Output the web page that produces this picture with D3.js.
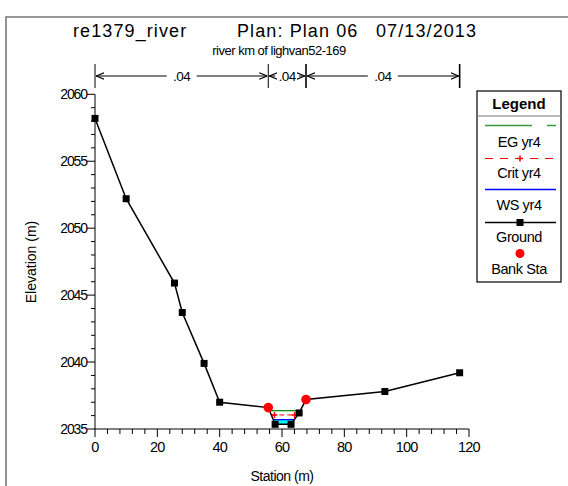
<!DOCTYPE html>
<html>
<head>
<meta charset="utf-8">
<script src="https://cdn.jsdelivr.net/npm/d3@7"></script>
<style>
  body { margin: 0; background: #fff; }
  svg { font-family: "Liberation Sans", Arial, sans-serif; }
</style>
</head>
<body>
<svg id="canvas" width="568" height="486"></svg>
<script>
// cross section data
let station   = [0, 10, 25.5, 28, 35, 40, 55.6, 57.8, 62.9, 65.5, 67.7, 93, 117];
let elevation = [2058.2, 2052.2, 2045.9, 2043.7, 2039.9, 2037.0, 2036.6, 2035.35, 2035.35, 2036.2, 2037.2, 2037.8, 2039.2];
let bankStation = [55.6, 67.7];
let bankElevation = [2036.6, 2037.2];
let wsElev = 2035.7;
let critElev = 2036.05;
let egElev = 2036.37;
let nBreaks = [0, 55.6, 67.7, 117];
let nValues = [".04", ".04", ".04"];
let xTicks = [0, 20, 40, 60, 80, 100, 120];
let yTicks = [2035, 2040, 2045, 2050, 2055, 2060];
let legendItems = ["EG yr4", "Crit yr4", "WS yr4", "Ground", "Bank Sta"];

let svg = d3.select("#canvas");
let ground = station.map((s, i) => [s, elevation[i]]);

let x = d3.scaleLinear().domain([0, 120]).range([95, 469]);
let y = d3.scaleLinear().domain([2035, 2060]).range([429, 94.3]);

svg.append('rect').attr('width', 568).attr('height', 486).attr('fill', '#fff');

// frame
svg.append('path')
  .attr('d', 'M6,486 V17 H568')
  .attr('fill', 'none')
  .attr('stroke', '#777')
  .attr('stroke-width', 1.6);

// titles
let title = svg.append('text').attr('y', 37).attr('font-size', 18).attr('letter-spacing', 1.1).attr('fill', '#000');
title.append('tspan').attr('x', 73).text('re1379_river');
title.append('tspan').attr('x', 237).text('Plan: Plan 06');
title.append('tspan').attr('x', 376).text('07/13/2013');

svg.append('text')
  .attr('x', 279).attr('y', 55)
  .attr('text-anchor', 'middle')
  .attr('font-size', 13)
  .attr('letter-spacing', -0.5)
  .text('river km of lighvan52-169');

// n value bracket
let by = 76;
svg.append('defs').append('marker')
  .attr('id', 'arr')
  .attr('viewBox', '0 0 10 10')
  .attr('refX', 10).attr('refY', 5)
  .attr('markerWidth', 8).attr('markerHeight', 8)
  .attr('markerUnits', 'userSpaceOnUse')
  .attr('orient', 'auto-start-reverse')
  .append('path')
  .attr('d', 'M0,1 L10,5 L0,9')
  .attr('fill', 'none')
  .attr('stroke', '#000')
  .attr('stroke-width', 1.4);

nBreaks.forEach((b, i) => {
  svg.append('line')
    .attr('x1', x(b)).attr('x2', x(b))
    .attr('y1', 64).attr('y2', 88)
    .attr('stroke', '#000')
    .attr('stroke-width', i >= 2 ? 1.6 : 1);
});
nValues.forEach((v, i) => {
  let x0 = x(nBreaks[i]), x1 = x(nBreaks[i + 1]);
  let xm = (x0 + x1) / 2;
  let half = 11;
  if (x1 - x0 > 60) {
    svg.append('line')
      .attr('x1', xm - half - 4).attr('x2', x0 + 1)
      .attr('y1', by).attr('y2', by)
      .attr('stroke', '#000').attr('marker-end', 'url(#arr)');
    svg.append('line')
      .attr('x1', xm + half + 4).attr('x2', x1 - 1)
      .attr('y1', by).attr('y2', by)
      .attr('stroke', '#000').attr('marker-end', 'url(#arr)');
  } else {
    svg.append('line')
      .attr('x1', x0 + 7).attr('x2', x0 + 1)
      .attr('y1', by).attr('y2', by)
      .attr('stroke', '#000').attr('marker-end', 'url(#arr)');
    svg.append('line')
      .attr('x1', x1 - 7).attr('x2', x1 - 1)
      .attr('y1', by).attr('y2', by)
      .attr('stroke', '#000').attr('marker-end', 'url(#arr)');
  }
  svg.append('text')
    .attr('x', xm).attr('y', by + 5)
    .attr('text-anchor', 'middle')
    .attr('font-size', 13.5)
    .attr('letter-spacing', -0.5)
    .text(v);
});

// axes
let yAxis = svg.append('g').attr('transform', 'translate(95,0)');
yAxis.append('line').attr('x1', 0).attr('x2', 0).attr('y1', y(2035)).attr('y2', y(2060)).attr('stroke', '#000');
d3.range(2035, 2061, 1).forEach((v) => {
  let major = v % 5 === 0;
  yAxis.append('line')
    .attr('x1', major ? -8 : -4).attr('x2', 0)
    .attr('y1', y(v)).attr('y2', y(v))
    .attr('stroke', '#000');
});
yTicks.forEach((v) => {
  yAxis.append('text')
    .attr('x', -8).attr('y', y(v) + 5)
    .attr('text-anchor', 'end')
    .attr('font-size', 14)
    .attr('letter-spacing', -1.1)
    .text(v);
});

let xAxis = svg.append('g').attr('transform', 'translate(0,429)');
xAxis.append('line').attr('x1', x(0)).attr('x2', x(120)).attr('y1', 0).attr('y2', 0).attr('stroke', '#000');
d3.range(0, 121, 4).forEach((v) => {
  let major = v % 20 === 0;
  xAxis.append('line')
    .attr('x1', x(v)).attr('x2', x(v))
    .attr('y1', 0).attr('y2', major ? 8 : 5)
    .attr('stroke', '#000');
});
xTicks.forEach((v) => {
  xAxis.append('text')
    .attr('x', x(v)).attr('y', 23)
    .attr('text-anchor', 'middle')
    .attr('font-size', 14.5)
    .attr('letter-spacing', -0.8)
    .text(v);
});

svg.append('text')
  .attr('x', 282).attr('y', 481)
  .attr('text-anchor', 'middle')
  .attr('font-size', 14)
  .attr('letter-spacing', -0.5)
  .text('Station (m)');

svg.append('text')
  .attr('transform', 'translate(36,262) rotate(-90)')
  .attr('text-anchor', 'middle')
  .attr('font-size', 14)
  .text('Elevation (m)');

// water surface extents where the ground dips below a level
let crossings = (level) => {
  let pts = [];
  for (let i = 0; i < ground.length - 1; i++) {
    let [s0, e0] = ground[i], [s1, e1] = ground[i + 1];
    if ((e0 - level) * (e1 - level) < 0) {
      pts.push(s0 + (level - e0) / (e1 - e0) * (s1 - s0));
    }
  }
  return [d3.min(pts), d3.max(pts)];
};

let [wl, wr] = crossings(wsElev);
let wet = [[wl, wsElev]].concat(ground.filter((g) => g[0] > wl && g[0] < wr && g[1] < wsElev), [[wr, wsElev]]);
svg.append('path')
  .attr('d', d3.line().x((d) => x(d[0])).y((d) => y(d[1]))(wet) + 'Z')
  .attr('fill', '#00ffff');

svg.append('line')
  .attr('x1', x(wl)).attr('x2', x(wr))
  .attr('y1', y(wsElev)).attr('y2', y(wsElev))
  .attr('stroke', '#0000ff').attr('stroke-width', 1.3);

let [cl, cr] = crossings(critElev);
svg.append('line')
  .attr('x1', x(cl)).attr('x2', x(cr))
  .attr('y1', y(critElev)).attr('y2', y(critElev))
  .attr('stroke', '#ff0000').attr('stroke-dasharray', '5,3');
[cl + 1, cr - 1].forEach((s) => {
  svg.append('path')
    .attr('d', `M${x(s) - 3},${y(critElev)} h6 M${x(s)},${y(critElev) - 3} v6`)
    .attr('stroke', '#ff0000').attr('stroke-width', 1.5);
});

let [el, er] = crossings(egElev);
svg.append('line')
  .attr('x1', x(el)).attr('x2', x(er))
  .attr('y1', y(egElev)).attr('y2', y(egElev))
  .attr('stroke', '#109010').attr('stroke-width', 1.3);

// ground
svg.append('path')
  .datum(ground)
  .attr('d', d3.line().x((d) => x(d[0])).y((d) => y(d[1])))
  .attr('fill', 'none')
  .attr('stroke', '#000')
  .attr('stroke-width', 1.5);

svg.selectAll('rect.gp')
  .data(ground.filter((g, i) => !bankStation.includes(g[0])))
  .enter()
  .append('rect')
  .attr('class', 'gp')
  .attr('x', (d) => x(d[0]) - 3.5)
  .attr('y', (d) => y(d[1]) - 3.5)
  .attr('width', 7).attr('height', 7)
  .attr('fill', '#000');

svg.selectAll('circle.bank')
  .data(bankStation)
  .enter()
  .append('circle')
  .attr('class', 'bank')
  .attr('cx', (d) => x(d))
  .attr('cy', (d, i) => y(bankElevation[i]))
  .attr('r', 4.8)
  .attr('fill', '#ff0000');

// legend
let lg = svg.append('g');
lg.append('rect')
  .attr('x', 477).attr('y', 91).attr('width', 84).attr('height', 191)
  .attr('fill', '#fff').attr('stroke', '#000').attr('stroke-width', 1.2);
lg.append('line')
  .attr('x1', 477).attr('x2', 561).attr('y1', 116).attr('y2', 116)
  .attr('stroke', '#777').attr('stroke-width', 1.2);
lg.append('text')
  .attr('x', 519).attr('y', 109)
  .attr('text-anchor', 'middle')
  .attr('font-size', 15).attr('font-weight', 'bold')
  .text('Legend');

let symY = [125.5, 158.5, 189.5, 222.5, 253.5];
let txtY = [147, 178, 210, 242, 274];
legendItems.forEach((name, i) => {
  lg.append('text')
    .attr('x', 519).attr('y', txtY[i])
    .attr('text-anchor', 'middle')
    .attr('font-size', 14.5)
    .attr('letter-spacing', -0.4)
    .text(name);
});
lg.append('line').attr('x1', 485).attr('x2', 556).attr('y1', symY[0]).attr('y2', symY[0])
  .attr('stroke', '#3a9a3a').attr('stroke-width', 1.3).attr('stroke-dasharray', '47,15');
lg.append('line').attr('x1', 485).attr('x2', 556).attr('y1', symY[1]).attr('y2', symY[1])
  .attr('stroke', '#ff0000').attr('stroke-dasharray', '8,7');
lg.append('path')
  .attr('d', `M517,${symY[1]} h6 M520,${symY[1] - 3} v6`)
  .attr('stroke', '#ff0000').attr('stroke-width', 1.5);
lg.append('line').attr('x1', 485).attr('x2', 556).attr('y1', symY[2]).attr('y2', symY[2])
  .attr('stroke', '#0000ff').attr('stroke-width', 1.3);
lg.append('line').attr('x1', 485).attr('x2', 556).attr('y1', symY[3]).attr('y2', symY[3])
  .attr('stroke', '#000').attr('stroke-width', 1.3);
lg.append('rect').attr('x', 516.5).attr('y', symY[3] - 3.5).attr('width', 7).attr('height', 7).attr('fill', '#000');
lg.append('circle').attr('cx', 520).attr('cy', symY[4]).attr('r', 4.5).attr('fill', '#ff0000');
</script>
</body>
</html>
